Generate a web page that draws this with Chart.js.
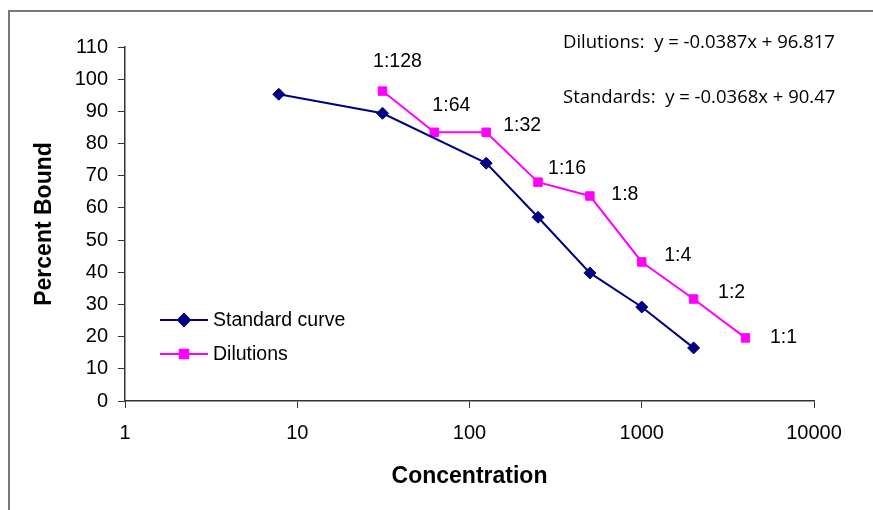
<!DOCTYPE html>
<html>
<head>
<meta charset="utf-8">
<script src="https://cdn.jsdelivr.net/npm/chart.js@4"></script>
<style>
  html, body { margin: 0; padding: 0; background: #fff; }
  #wrap { position: relative; width: 873px; height: 510px; }
  #frame { position: absolute; left: 8px; top: 10px; right: -10px; bottom: -10px;
           border-left: 2px solid #777; border-top: 2px solid #777; pointer-events: none; }
</style>
</head>
<body>
<div id="wrap">
  <canvas id="chart" width="873" height="510"></canvas>
  <div id="frame"></div>
</div>
<script>
// Standard curve
const stdConc = [7.8125, 31.25, 125, 250, 500, 1000, 2000];
const stdBound = [95.3, 89.4, 73.9, 57.1, 39.8, 29.2, 16.5];

// Sample dilutions
const dilConc = [31.25, 62.5, 125, 250, 500, 1000, 2000, 4000];
const dilBound = [96.3, 83.5, 83.5, 68, 63.7, 43.2, 31.7, 19.6];
const dilLabels = ["1:128", "1:64", "1:32", "1:16", "1:8", "1:4", "1:2", "1:1"];

const xTicks = [1, 10, 100, 1000, 10000];
const equations = ["Dilutions:  y = -0.0387x + 96.817", "Standards:  y = -0.0368x + 90.47"];

const NAVY = "#000080";
const MAGENTA = "#ff00ff";
const ARIAL = "'Liberation Sans', Arial, sans-serif";

const toPoints = (xs, ys) => xs.map((x, i) => ({ x: x, y: ys[i] }));

// Labels next to the dilution points, equations and the inset legend
const extras = {
    id: "extras",
    afterDatasetsDraw(chart) {
        const ctx = chart.ctx;
        const offsets = [[15, -29], [17, -27], [36, -7], [29, -14], [35, -1], [36, -6], [38, -6], [38, 0]];
        const meta = chart.getDatasetMeta(1);
        ctx.save();
        ctx.fillStyle = "#000";
        ctx.font = "19.5px " + ARIAL;
        ctx.textAlign = "center";
        ctx.textBaseline = "middle";
        meta.data.forEach((pt, i) => {
            ctx.fillText(dilLabels[i], pt.x + offsets[i][0], pt.y + offsets[i][1]);
        });

        ctx.textAlign = "left";
        ctx.font = "18.5px 'Open Sans', sans-serif";
        ctx.fillText(equations[0], 563, 43);
        ctx.fillText(equations[1], 563, 98);

        // legend
        const rows = [
            { text: "Standard curve", color: NAVY, style: "rectRot", y: 320 },
            { text: "Dilutions", color: MAGENTA, style: "rect", y: 354 }
        ];
        ctx.font = "19.5px " + ARIAL;
        rows.forEach(r => {
            ctx.strokeStyle = r.color;
            ctx.lineWidth = 2;
            ctx.beginPath();
            ctx.moveTo(160, r.y);
            ctx.lineTo(208, r.y);
            ctx.stroke();
            ctx.fillStyle = r.color;
            Chart.helpers.drawPoint(ctx, { pointStyle: r.style, radius: 6, borderWidth: 1 }, 184, r.y);
            ctx.fillStyle = "#000";
            ctx.fillText(r.text, 213, r.y + 1);
        });
        ctx.restore();
    }
};

new Chart(document.getElementById("chart"), {
    type: "line",
    data: {
        datasets: [
            {
                label: "Standard curve",
                data: toPoints(stdConc, stdBound),
                borderColor: NAVY,
                backgroundColor: NAVY,
                borderWidth: 2,
                pointStyle: "rectRot",
                pointRadius: 6,
                pointBorderWidth: 1,
                tension: 0
            },
            {
                label: "Dilutions",
                data: toPoints(dilConc, dilBound),
                borderColor: MAGENTA,
                backgroundColor: MAGENTA,
                borderWidth: 2,
                pointStyle: "rect",
                pointRadius: 6,
                pointBorderWidth: 1,
                tension: 0
            }
        ]
    },
    options: {
        responsive: false,
        animation: false,
        layout: { padding: { left: 0, right: 59, top: 47, bottom: 0 } },
        plugins: {
            legend: { display: false },
            tooltip: { enabled: false }
        },
        scales: {
            x: {
                type: "logarithmic",
                min: 1,
                max: 10000,
                afterBuildTicks: scale => { scale.ticks = xTicks.map(v => ({ value: v })); },
                afterFit: scale => { scale.height = 109; },
                grid: { drawOnChartArea: false, drawTicks: true, tickLength: 7, color: "#333" },
                border: { color: "#333", width: 1.5 },
                ticks: {
                    color: "#000",
                    padding: 13,
                    maxRotation: 0,
                    autoSkip: false,
                    font: { family: ARIAL, size: 20 },
                    callback: v => String(v)
                },
                title: {
                    display: true,
                    text: "Concentration",
                    color: "#000",
                    font: { family: ARIAL, size: 23, weight: "bold" },
                    padding: { top: 0, bottom: 20 }
                }
            },
            y: {
                min: 0,
                max: 110,
                afterFit: scale => { scale.width = 125; },
                grid: { drawOnChartArea: false, drawTicks: true, tickLength: 7, color: "#333" },
                border: { color: "#333", width: 1.5 },
                ticks: {
                    stepSize: 10,
                    color: "#000",
                    padding: 10,
                    font: { family: ARIAL, size: 20 }
                },
                title: {
                    display: true,
                    text: "Percent Bound",
                    color: "#000",
                    font: { family: ARIAL, size: 23, weight: "bold" },
                    padding: { top: 31, bottom: 0 }
                }
            }
        }
    },
    plugins: [extras]
});
</script>
</body>
</html>
